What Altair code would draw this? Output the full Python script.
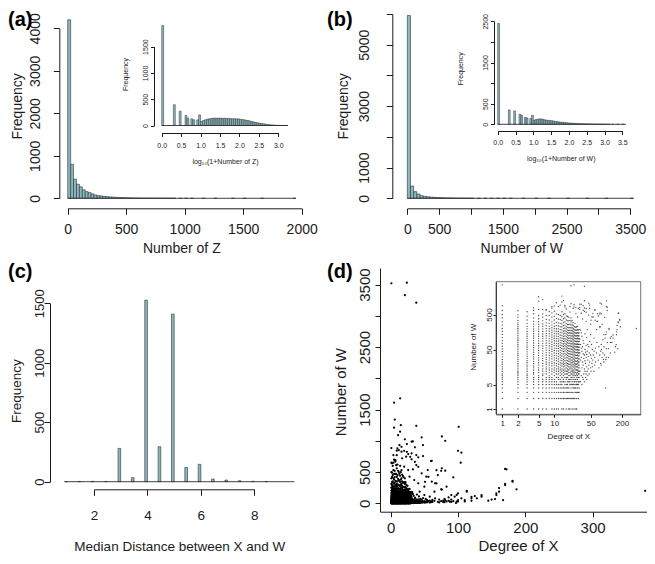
import altair as alt
import pandas as pd

# ---------------- data ----------------
# (a) histogram of Number of Z (bins of width 25)
z_bin_start = [0, 25, 50, 75, 100, 125, 150, 175, 200, 225, 250, 275, 300, 325, 350, 375, 400, 425,
               450, 475, 500, 525, 550, 575, 600, 625, 650, 675, 700, 725, 750, 775, 800, 825, 850,
               875, 900, 950, 1000, 1050, 1150, 1250, 1400, 1500, 1650, 1925]
z_counts = [4200, 800, 450, 330, 270, 200, 157, 133, 102, 78, 63, 55, 45, 40, 33, 28, 24, 20,
            17, 14, 12, 10, 9, 8, 7, 6, 5, 5, 4, 4, 3, 3, 3, 2, 2,
            2, 2, 1, 1, 1, 1, 1, 1, 1, 1, 1]

# (a) inset: log10(1+Number of Z) (bins of width 0.05)
logz_bin_start = [0.00, 0.30, 0.45, 0.60, 0.65, 0.75, 0.80, 0.90, 0.95,
                  1.00, 1.05, 1.10, 1.15, 1.20, 1.25, 1.30, 1.35, 1.40, 1.45,
                  1.50, 1.55, 1.60, 1.65, 1.70, 1.75, 1.80, 1.85, 1.90, 1.95,
                  2.00, 2.05, 2.10, 2.15, 2.20, 2.25, 2.30, 2.35, 2.40, 2.45,
                  2.50, 2.55, 2.60, 2.65, 2.70, 2.75, 2.80, 2.85, 2.90, 2.95,
                  3.00, 3.05, 3.10, 3.15, 3.20]
logz_counts = [1900, 395, 272, 190, 139, 127, 108, 108, 202,
               76, 95, 108, 120, 127, 133, 139, 139, 139, 139,
               139, 135, 139, 133, 135, 130, 127, 130, 125, 127,
               118, 115, 108, 100, 95, 85, 76, 66, 57, 50,
               44, 38, 32, 25, 19, 15, 13, 9, 6, 4,
               3, 2, 1, 1, 1]

# (b) histogram of Number of W (bins of width 50)
w_bin_start = [0, 50, 100, 150, 200, 250, 300, 350, 400, 450, 500, 550, 600, 650, 700, 750, 800,
               850, 900, 950, 1000, 1100, 1200, 1300, 1400, 1500, 1600, 1800, 2000, 2200, 2500,
               2800, 3100, 3500]
w_counts = [5950, 400, 216, 140, 85, 65, 50, 40, 32, 26, 21, 17, 14, 12, 10, 8, 7,
            6, 5, 5, 4, 3, 3, 2, 2, 2, 1, 1, 1, 1, 1,
            1, 1, 1]

# (b) inset: log10(1+Number of W) (bins of width 0.05)
logw_bin_start = [0.00, 0.30, 0.45, 0.60, 0.65, 0.75, 0.80, 0.90, 0.95,
                  1.00, 1.05, 1.10, 1.15, 1.20, 1.25, 1.30, 1.35, 1.40, 1.45,
                  1.50, 1.55, 1.60, 1.65, 1.70, 1.75, 1.80, 1.85, 1.90, 1.95,
                  2.00, 2.05, 2.10, 2.15, 2.20, 2.25, 2.30, 2.35, 2.40, 2.45,
                  2.50, 2.55, 2.60, 2.65, 2.70, 2.75, 2.80, 2.85, 2.90, 2.95,
                  3.00, 3.05, 3.10, 3.20, 3.35, 3.50]
logw_counts = [2450, 350, 325, 245, 220, 165, 155, 140, 220,
               100, 115, 125, 130, 130, 122, 108, 100, 97, 90,
               88, 80, 68, 64, 57, 50, 48, 42, 40, 33,
               32, 28, 25, 22, 20, 18, 16, 14, 12, 11,
               10, 9, 8, 7, 6, 5, 4, 4, 3, 3,
               2, 1, 1, 1, 1, 1]

# (c) Median distance between X and W (right-closed bins of width 0.1, by upper edge)
dist_bin_end = [1.0, 1.5, 2.0, 2.5, 3.0, 3.5, 4.0, 4.5, 5.0, 5.5, 6.0, 6.5, 7.0, 7.5, 8.0, 8.5]
dist_counts = [1, 2, 3, 2, 280, 34, 1527, 294, 1409, 120, 146, 22, 14, 8, 3, 2]

# (d) Number of W for each Degree of X
w_at_degree = {
    1: [1, 2, 3, 4, 5, 6, 7, 8, 9, 10, 12, 14, 16, 19, 22, 26, 31, 37, 44, 52, 62, 75, 90, 110, 135,
        165, 200, 250, 310, 400, 500, 650, 885, 3520],
    2: [1, 2, 3, 4, 5, 6, 7, 8, 9, 10, 11, 12, 14, 16, 18, 20, 23, 26, 30, 34, 38, 43, 49, 55, 62, 70,
        79, 89, 100, 113, 127, 143, 160, 180, 200, 225, 255, 290, 340, 420, 490, 640],
    3: [1, 2, 3, 4, 5, 6, 7, 8, 9, 10, 12, 14, 16, 18, 21, 24, 28, 32, 37, 43, 50, 58, 67, 78, 90, 104,
        120, 140, 165, 195, 230, 280, 350, 450, 600],
    4: [1, 2, 3, 4, 5, 6, 7, 8, 10, 11, 13, 15, 17, 20, 23, 27, 31, 36, 42, 49, 57, 66, 77, 90, 105,
        122, 142, 166, 194, 226, 265, 320, 400, 530, 650, 773],
    5: [1, 2, 3, 4, 5, 6, 7, 8, 9, 11, 13, 15, 18, 21, 25, 29, 34, 40, 47, 55, 64, 75, 88, 103, 120,
        140, 164, 192, 225, 265, 315, 380, 470, 700, 1210, 1610],
    6: [1, 2, 3, 4, 5, 6, 7, 9, 10, 12, 14, 17, 20, 24, 28, 33, 39, 46, 54, 63, 74, 87, 102, 120, 140,
        165, 195, 230, 270, 330, 420, 520, 690, 1340],
    7: [1, 2, 3, 4, 5, 6, 7, 8, 10, 12, 14, 16, 19, 22, 26, 30, 35, 41, 48, 56, 66, 77, 90, 106, 124,
        145, 170, 200, 240, 290, 360, 470, 666, 690],
    8: [2, 3, 4, 5, 6, 7, 8, 9, 11, 13, 15, 18, 21, 25, 29, 34, 40, 47, 55, 64, 75, 88, 103, 121, 142,
        167, 196, 230, 280, 350, 470, 610],
    9: [1, 2, 3, 4, 5, 6, 7, 8, 10, 12, 14, 17, 20, 23, 27, 32, 37, 44, 51, 60, 70, 82, 96, 112, 131,
        153, 179, 210, 250, 310, 420, 560, 770, 842],
    10: [1, 2, 3, 4, 5, 6, 7, 9, 11, 13, 15, 18, 21, 25, 29, 34, 40, 47, 55, 65, 76, 89, 104, 122, 143,
         168, 197, 232, 280, 350, 450, 620, 880],
    11: [1, 2, 3, 4, 5, 6, 8, 10, 12, 14, 17, 20, 24, 28, 33, 39, 46, 54, 64, 75, 88, 103, 121, 142,
         167, 196, 240, 300, 390, 520, 1090],
    12: [1, 2, 3, 4, 5, 7, 8, 10, 12, 14, 16, 19, 23, 27, 32, 38, 45, 53, 62, 73, 86, 101, 119, 140,
         165, 195, 235, 290, 370, 500, 850],
    13: [2, 3, 4, 5, 6, 7, 9, 11, 13, 15, 18, 21, 25, 30, 35, 41, 48, 57, 67, 79, 93, 110, 130, 155,
         185, 225, 280, 360, 470, 933],
    14: [1, 2, 3, 4, 5, 6, 8, 10, 12, 14, 17, 20, 24, 28, 33, 39, 46, 54, 64, 75, 89, 105, 125, 150,
         180, 220, 270, 340, 440, 600, 1146, 1680],
    15: [1, 2, 3, 4, 6, 7, 9, 11, 13, 16, 19, 22, 26, 31, 37, 44, 52, 61, 72, 85, 100, 118, 140, 166,
         198, 240, 300, 380, 500, 1250],
    16: [2, 3, 4, 5, 6, 8, 10, 12, 14, 17, 20, 24, 28, 33, 39, 46, 54, 64, 75, 88, 104, 123, 146, 173,
         206, 250, 310, 400, 530, 826, 905],
    17: [1, 2, 3, 4, 5, 7, 8, 10, 12, 15, 18, 21, 25, 30, 36, 43, 51, 60, 71, 84, 99, 117, 138, 163,
         193, 230, 280, 350, 460, 720],
    18: [2, 3, 4, 5, 6, 8, 10, 12, 14, 17, 20, 24, 29, 34, 40, 47, 56, 66, 78, 92, 109, 129, 152, 180,
         215, 260, 330, 440],
    19: [1, 2, 3, 4, 6, 7, 9, 11, 13, 16, 19, 23, 27, 32, 38, 45, 53, 63, 74, 88, 104, 123, 146, 175,
         210, 260, 330, 420],
    20: [1, 2, 3, 5, 6, 7, 9, 11, 14, 16, 19, 23, 27, 32, 38, 45, 54, 64, 76, 90, 107, 127, 151, 180,
         215, 265, 340, 586, 840],
    21: [2, 3, 4, 5, 7, 8, 10, 12, 15, 18, 21, 25, 30, 36, 43, 51, 61, 72, 86, 102, 121, 144, 172, 206,
         250, 310, 400, 1024, 3330],
    22: [1, 2, 3, 5, 6, 8, 10, 12, 14, 17, 21, 25, 30, 36, 43, 51, 61, 73, 87, 104, 124, 148, 178, 215,
         265, 340],
    23: [2, 3, 4, 5, 7, 9, 11, 13, 16, 19, 23, 28, 33, 40, 48, 57, 68, 81, 97, 116, 139, 167, 200, 245,
         300, 746],
    24: [1, 2, 4, 5, 6, 8, 10, 12, 15, 18, 22, 26, 31, 37, 44, 53, 63, 75, 90, 108, 130, 156, 188, 230,
         825, 949, 3530],
    25: [2, 3, 4, 6, 7, 9, 11, 14, 17, 20, 24, 29, 35, 42, 50, 60, 72, 86, 103, 124, 149, 180, 220, 280],
    26: [1, 3, 4, 5, 7, 9, 11, 13, 16, 19, 23, 28, 34, 41, 49, 59, 71, 85, 102, 122, 147, 178, 215, 533,
         789],
    27: [1, 2, 3, 5, 6, 8, 10, 13, 16, 19, 23, 28, 34, 41, 49, 59, 71, 85, 102, 123, 148, 180, 225],
    28: [3, 4, 5, 7, 9, 11, 13, 16, 20, 24, 29, 35, 42, 50, 60, 72, 87, 105, 126, 152, 185, 230, 426],
    29: [2, 3, 5, 6, 8, 10, 12, 15, 18, 22, 27, 33, 40, 48, 58, 70, 84, 101, 122, 147, 180, 745],
    30: [3, 4, 6, 8, 10, 12, 15, 18, 22, 27, 33, 40, 48, 58, 70, 85, 102, 123, 150, 185],
}
w_at_high_degree = {
    31: [12, 40, 100, 704, 800, 986], 32: [6, 25, 70, 180], 33: [9, 30, 55, 150, 544, 990],
    34: [5, 15, 45, 120], 35: [8, 22, 60, 373], 36: [7, 18, 38, 90, 665, 896], 37: [10, 28, 75],
    38: [6, 14, 35, 613, 773, 1240, 3210], 39: [12, 24, 50, 140], 40: [8, 20, 42],
    41: [10, 30, 65, 320, 585, 736], 42: [7, 16, 36, 110], 43: [12, 45, 186], 44: [9, 25, 70],
    45: [14, 32], 46: [18, 60, 480, 1055], 47: [10, 40], 48: [22, 85, 757, 933],
    50: [15, 35, 133, 266], 51: [12, 345], 52: [28, 70], 53: [20, 426], 54: [16, 50], 55: [25, 533],
    56: [35, 425], 58: [12, 45, 106], 60: [18, 30, 677], 61: [346, 680], 62: [22, 55], 65: [40, 186],
    66: [80, 320], 68: [320, 530], 70: [25, 453], 72: [15, 60], 75: [35, 224, 520],
    76: [220, 560, 1070], 78: [20, 45], 80: [18, 70], 81: [50, 522, 1000], 83: [30, 266],
    86: [40, 95], 88: [26], 90: [22, 60, 133], 93: [35, 416], 95: [106], 97: [4], 98: [26, 135],
    100: [30, 53, 160, 840], 101: [1225], 104: [650], 105: [80, 810], 110: [30, 53], 113: [186, 200],
    120: [40, 80, 105], 125: [117], 128: [80], 135: [106, 130], 145: [42], 150: [60], 155: [69],
    157: [133, 160], 161: [186, 245], 167: [53], 170: [293, 310, 550], 172: [544], 181: [346, 360],
    187: [224], 378: [200],
}

# ---------------- layout / style ----------------
W, H = 639, 548
FONT = "Liberation Sans, Arial, Helvetica, sans-serif"
INK = "#1b1b1b"
FILL = "#8db6be"
EDGE = "#283032"


def hide_expr(hide):
    if not hide:
        return "datum.label"
    return "indexof(%s, datum.value) >= 0 ? '' : datum.label" % list(hide)


def bottom_axis(values, fmt, axis_y, title, tx, ty, fs, tfs, pad, tick=6, hide=()):
    return alt.Axis(orient="bottom", offset=axis_y - H, values=values, format=fmt,
                    title=title, titleX=tx, titleY=ty - axis_y, titleAlign="center",
                    titleBaseline="middle", titleAngle=0, titleFont=FONT, titleFontSize=tfs,
                    titleFontWeight="normal", titleColor=INK,
                    labelFont=FONT, labelFontSize=fs, labelColor=INK, labelPadding=pad,
                    labelAngle=0, labelAlign="center", labelBaseline="top", labelFlush=False,
                    labelOverlap=False, labelBound=False, labelExpr=hide_expr(hide),
                    tickSize=tick, tickColor=INK, tickWidth=1, domainColor=INK, domainWidth=1,
                    grid=False)


def left_axis(values, fmt, axis_x, title, tx, ty, fs, tfs, pad, tick=6, hide=()):
    return alt.Axis(orient="left", offset=-axis_x, values=values, format=fmt,
                    title=title, titleX=tx - axis_x, titleY=ty, titleAlign="center",
                    titleBaseline="middle", titleAngle=270, titleFont=FONT, titleFontSize=tfs,
                    titleFontWeight="normal", titleColor=INK,
                    labelFont=FONT, labelFontSize=fs, labelColor=INK, labelPadding=pad,
                    labelAngle=270, labelAlign="center", labelBaseline="alphabetic",
                    labelFlush=False, labelOverlap=False, labelBound=False,
                    labelExpr=hide_expr(hide), tickSize=tick, tickColor=INK, tickWidth=1,
                    domainColor=INK, domainWidth=1, grid=False)


def lin(domain, rng):
    return alt.Scale(type="linear", domain=domain, range=rng, nice=False, zero=False)


def logsc(domain, rng):
    return alt.Scale(type="log", domain=domain, range=rng, nice=False)


def hist(starts, ends, counts, xs, ys, xax, yax, base_from, base_to, sw=0.6):
    df = pd.DataFrame({"bin_start": starts, "bin_end": ends, "count": counts, "zero": 0})
    bars = alt.Chart(df).mark_rect(fill=FILL, stroke=EDGE, strokeWidth=sw).encode(
        x=alt.X("bin_start:Q", scale=xs, axis=xax),
        x2="bin_end:Q",
        y=alt.Y("count:Q", scale=ys, axis=yax),
        y2="zero:Q",
    )
    base_df = pd.DataFrame({"b0": [base_from], "b1": [base_to], "zero": [0]})
    base = alt.Chart(base_df).mark_rule(color=EDGE, strokeWidth=0.9).encode(
        x=alt.X("b0:Q", scale=xs, axis=xax),
        x2="b1:Q",
        y=alt.Y("zero:Q", scale=ys, axis=yax),
    )
    return alt.layer(bars, base)


# ---------- panel (a) ----------
a_xs = lin([0, 2000], [59.7, 293.7])
a_ys = lin([0, 4000], [190.3, 20.3])
a_main = hist(z_bin_start, [s + 25 for s in z_bin_start], z_counts, a_xs, a_ys,
              bottom_axis([0, 500, 1000, 1500, 2000], "d", 200.3, "Number of Z", 173.3, 240.3, 14, 14, 8),
              left_axis([0, 1000, 2000, 3000, 4000], "d", 51.3, "Frequency", 9, 97.8, 14, 14, 14),
              0, 1950)

ai_xs = lin([0, 3], [153.7, 270.3])
ai_ys = lin([0, 1500], [117.5, 38.6])
a_inset = hist(logz_bin_start, [round(s + 0.05, 2) for s in logz_bin_start], logz_counts, ai_xs, ai_ys,
               bottom_axis([0, 0.5, 1, 1.5, 2, 2.5, 3], ".1f", 125, "log\u2081\u2080(1+Number of Z)",
                           217, 153.7, 7, 7, 5, tick=3.5),
               left_axis([0, 500, 1000, 1500], "d", 146, "Frequency", 117, 66, 7, 7, 3.5, tick=3.5),
               0, 3.25, sw=0.5)

# ---------- panel (b) ----------
b_xs = lin([0, 3500], [399.3, 622.3])
b_ys = lin([0, 6000], [190.3, 6])
b_main = hist(w_bin_start, [s + 50 for s in w_bin_start], w_counts, b_xs, b_ys,
              bottom_axis([0, 500, 1000, 1500, 2000, 2500, 3000, 3500], "d", 200.3, "Number of W",
                          513.3, 240.3, 14, 14, 8, hide=(1000, 2000, 3000)),
              left_axis([0, 1000, 2000, 3000, 4000, 5000, 6000], "d", 384.3, "Frequency",
                        335.3, 97.8, 14, 14, 18, hide=(2000, 4000, 6000)),
              0, 3550)

bi_xs = lin([0, 3.5], [489.7, 614.3])
bi_ys = lin([0, 2500], [116.3, 13.3])
b_inset = hist(logw_bin_start, [round(s + 0.05, 2) for s in logw_bin_start], logw_counts, bi_xs, bi_ys,
               bottom_axis([0, 0.5, 1, 1.5, 2, 2.5, 3, 3.5], ".1f", 123, "log\u2081\u2080(1+Number of W)",
                           552.8, 150.3, 7, 7, 3.5, tick=3.5),
               left_axis([0, 500, 1000, 1500, 2000, 2500], "d", 486, "Frequency", 452.7, 60.3, 7, 7, 3.5,
                         tick=3.5, hide=(1000, 2000)),
               0, 3.6, sw=0.5)

# ---------- panel (c) ----------
c_xs = lin([2, 8], [86, 246.3])
c_ys = lin([0, 1500], [473.7, 295.3])
c_main = hist([round(e - 0.1, 1) for e in dist_bin_end], dist_bin_end, dist_counts, c_xs, c_ys,
              bottom_axis([2, 4, 6, 8], "d", 481.3, "Median Distance between X and W",
                          171.3, 538.7, 13.5, 13.5, 13),
              left_axis([0, 500, 1000, 1500], "d", 42, "Frequency", 8.5, 382.7, 13, 13.5, 1),
              0.9, 9.5)

# ---------- panel (d) ----------
deg, nw = [], []
for table in (w_at_degree, w_at_high_degree):
    for d_val, ws in table.items():
        for w_val in ws:
            deg.append(d_val)
            nw.append(w_val)
pts = pd.DataFrame({"degree": deg, "w": nw})

d_xs = lin([-15.9, 387.8], [372, 643.7])
d_ys = lin([-134, 3765], [503.7, 260])
d_main = alt.Chart(pts).mark_circle(size=5, color="black", opacity=1).encode(
    x=alt.X("degree:Q", scale=d_xs,
            axis=bottom_axis([0, 100, 200, 300], "d", 503.7, "Degree of X", 510, 537, 15, 15, 4, tick=5)),
    y=alt.Y("w:Q", scale=d_ys,
            axis=left_axis([0, 500, 1000, 1500, 2000, 2500, 3000, 3500], "d", 372, "Number of W",
                           332, 383.7, 15, 15, 6, tick=5, hide=(1000, 2000, 3000))),
)

DI_X = [0.757, 459]
DI_Y = [0.706, 4335]
di_xs = logsc(DI_X, [488, 632.7])
di_ys = logsc(DI_Y, [406.3, 273.7])
di_xax = bottom_axis([1, 2, 5, 10, 50, 200], "d", 406.3, "Degree of X", 560.3, 428.7, 8, 8, 2.5, tick=3)
di_yax = left_axis([1, 5, 50, 500], "d", 488, "Number of W", 465.3, 338.7, 8, 8, 2, tick=3)
frame_df = pd.DataFrame({"x0": [DI_X[0]], "x1": [DI_X[1]], "y0": [DI_Y[0]], "y1": [DI_Y[1]]})
d_frame = alt.Chart(frame_df).mark_rect(fillOpacity=0, stroke="#666666", strokeWidth=0.9).encode(
    x=alt.X("x0:Q", scale=di_xs, axis=di_xax), x2="x1:Q",
    y=alt.Y("y0:Q", scale=di_ys, axis=di_yax), y2="y1:Q",
)
d_inset_pts = alt.Chart(pts).mark_circle(size=1.8, color="#333333", opacity=0.9).encode(
    x=alt.X("degree:Q", scale=di_xs, axis=di_xax),
    y=alt.Y("w:Q", scale=di_ys, axis=di_yax),
)
d_inset = alt.layer(d_inset_pts, d_frame)


def panel_label(txt, x, y):
    return alt.Chart(pd.DataFrame({"t": [txt]})).mark_text(
        align="left", baseline="alphabetic", font=FONT, fontSize=20, fontWeight="bold", color="black"
    ).encode(x=alt.value(x), y=alt.value(y), text="t:N")


chart = alt.layer(
    a_main, a_inset, b_main, b_inset, c_main, d_main, d_inset,
    panel_label("(a)", 0, 18), panel_label("(b)", 319, 18),
    panel_label("(c)", 0, 270), panel_label("(d)", 319, 270),
).resolve_scale(x="independent", y="independent").properties(
    width=W, height=H, padding=0, autosize=alt.AutoSizeParams(type="none")
).configure_view(stroke=None)

chart.save("out.html", embed_options={"renderer": "svg", "actions": False})
